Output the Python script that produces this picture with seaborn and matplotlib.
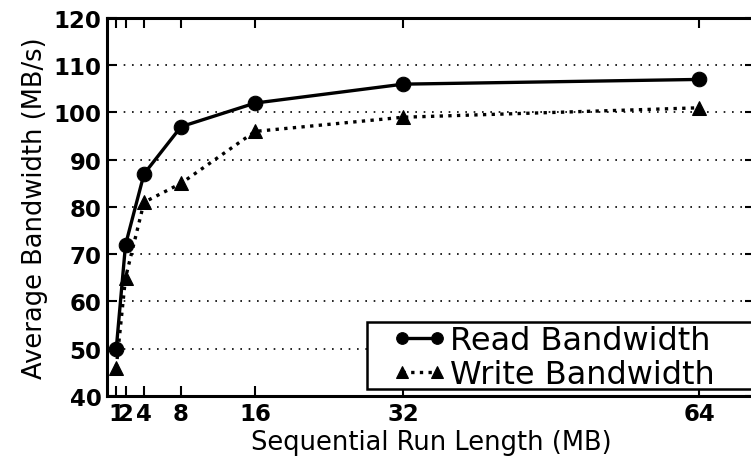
import matplotlib
matplotlib.use("Agg")
import matplotlib.pyplot as plt
from matplotlib.patches import Rectangle
import seaborn as sns
import pandas as pd

run_length_mb = [1, 2, 4, 8, 16, 32, 64]
read_bw = [50, 72, 87, 97, 102, 106, 107]
write_bw = [46, 65, 81, 85, 96, 99, 101]
y_ticks = [40, 50, 60, 70, 80, 90, 100, 110, 120]
x_ticks = [1, 2, 4, 8, 16, 32, 64]
x_ticklabels = ["1", "2", "4", "8", "16", "32", "64"]

df = pd.DataFrame({
    "run": run_length_mb * 2,
    "bw": read_bw + write_bw,
    "series": ["Read Bandwidth"] * len(read_bw) + ["Write Bandwidth"] * len(write_bw),
})

sns.set_style("ticks")
plt.rcParams["font.family"] = ["DejaVu Sans"]

W, H = 751, 464
fig = plt.figure(figsize=(W / 100, H / 100), dpi=100)
ax = fig.add_axes([107 / W, 1 - 397 / H, (755 - 107) / W, (397 - 19) / H])

sns.lineplot(
    data=df, x="run", y="bw", hue="series", style="series",
    palette=["black", "black"], dashes=[(None, None), (1, 1.6)],
    markers=["o", "^"], markersize=10.5, linewidth=2.4,
    markeredgecolor="black", ax=ax, legend=True,
)
handles, labels = ax.get_legend_handles_labels()
ax.get_legend().remove()

ax.set_xlim(0, 70)
ax.set_ylim(40, 120)
ax.set_xticks(x_ticks)
ax.set_xticklabels(x_ticklabels)
ax.set_yticks(y_ticks)
ax.yaxis.grid(True, linestyle=(0, (1, 4)), color="black", linewidth=1.2)
ax.xaxis.grid(False)

for s in ax.spines.values():
    s.set_linewidth(2.2)
    s.set_color("black")
ax.tick_params(direction="in", length=7, width=1.5, top=True, right=True,
               labelsize=16.5, colors="black", pad=4)
for lbl in ax.get_xticklabels() + ax.get_yticklabels():
    lbl.set_fontweight("bold")

ax.set_xlabel("Sequential Run Length (MB)", fontsize=18.5, color="black", labelpad=3)
ax.set_ylabel("Average Bandwidth (MB/s)", fontsize=18.5, color="black", labelpad=4)

# legend box, running off the right edge of the figure
fig.patches.append(Rectangle((367 / W, 1 - 390 / H), (780 - 367) / W, (390 - 323) / H,
                             transform=fig.transFigure, facecolor="white",
                             edgecolor="black", linewidth=1.8, zorder=5))

leg = fig.legend(handles, labels, loc="center left",
                 bbox_to_anchor=(392 / W, 1 - 358.5 / H),
                 fontsize=23, frameon=False, labelcolor="black",
                 numpoints=2, markerscale=0.8, handlelength=1.7,
                 handletextpad=0.1, borderpad=0.0, labelspacing=0.08,
                 borderaxespad=0.0)
leg.set_zorder(6)

fig.savefig("out.png", dpi=100)
